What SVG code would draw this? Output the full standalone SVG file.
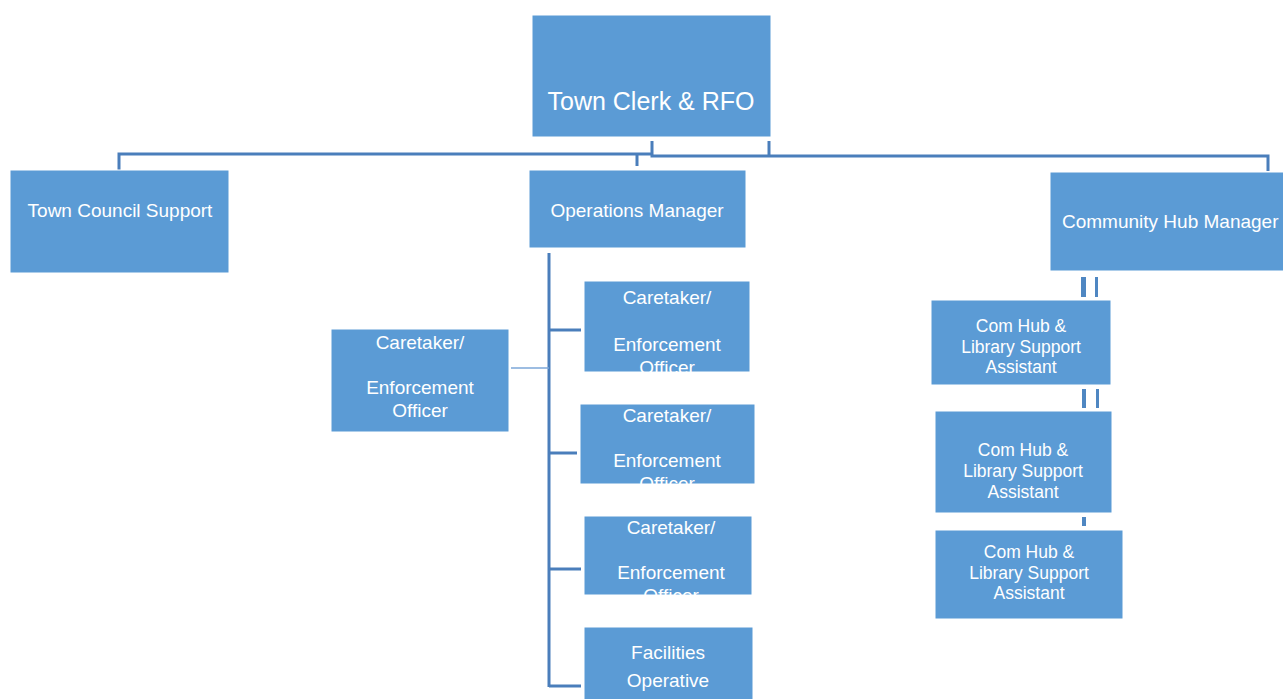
<svg xmlns="http://www.w3.org/2000/svg" width="1283" height="699" viewBox="0 0 1283 699">
<style>
.box{fill:#5B9BD5;stroke:#FFFFFF;stroke-width:1}
.t{fill:#FFFFFF;font-family:"Liberation Sans",Arial,sans-serif;font-size:19px;text-anchor:middle}
.s{font-size:17.5px}
.c{stroke:#4A7EBB;stroke-width:3;fill:none}
.cb{fill:#4F87C2}
</style>
<rect width="1283" height="699" fill="#FFFFFF"/>
<g id="connectors">
<polyline class="c" points="119,170 119,154 652,154"/>
<line class="c" x1="637" y1="154" x2="637" y2="166"/>
<polyline class="c" points="652,141 652,156 1268,156 1268,171"/>
<line class="c" x1="769" y1="141" x2="769" y2="156"/>
<line class="c" x1="549" y1="253" x2="549" y2="687"/>
<line class="c" x1="549" y1="330" x2="581" y2="330"/>
<line class="c" x1="549" y1="453" x2="577" y2="453"/>
<line class="c" x1="549" y1="569" x2="581" y2="569"/>
<line class="c" x1="549" y1="686" x2="581" y2="686"/>
<line x1="511" y1="368" x2="549" y2="368" stroke="#7DA7D9" stroke-width="1.5"/>
<rect class="cb" x="1081" y="277" width="5" height="20"/>
<rect class="cb" x="1095" y="277" width="3" height="20"/>
<rect class="cb" x="1082" y="389" width="4" height="19"/>
<rect class="cb" x="1096" y="389" width="3" height="19"/>
<rect class="cb" x="1082" y="517" width="4" height="9"/>
</g>
<g id="n-clerk"><rect class="box" x="532" y="15" width="239" height="122"/><text class="t" x="651" y="110" style="font-size:25px">Town Clerk &amp; RFO</text></g>
<g id="n-tcs"><rect class="box" x="10" y="170" width="219" height="103"/><text class="t" x="120" y="217">Town Council Support</text></g>
<g id="n-ops"><rect class="box" x="529" y="170" width="217" height="78"/><text class="t" x="637" y="217">Operations Manager</text></g>
<g id="n-chm"><rect class="box" x="1050" y="172" width="250" height="99"/><text class="t" x="1062" y="228" style="text-anchor:start">Community Hub Manager</text></g>
<g id="n-ct0"><rect class="box" x="331" y="329" width="178" height="103"/><text class="t" x="420" y="349">Caretaker/</text><text class="t" x="420" y="394">Enforcement</text><text class="t" x="420" y="417">Officer</text></g>
<clipPath id="k1"><rect x="584" y="281" width="166" height="91"/></clipPath>
<g id="n-ct1"><rect class="box" x="584" y="281" width="166" height="91"/><g clip-path="url(#k1)"><text class="t" x="667" y="304">Caretaker/</text><text class="t" x="667" y="351">Enforcement</text><text class="t" x="667" y="374">Officer</text></g></g>
<clipPath id="k2"><rect x="580" y="404" width="175" height="80"/></clipPath>
<g id="n-ct2"><rect class="box" x="580" y="404" width="175" height="80"/><g clip-path="url(#k2)"><text class="t" x="667" y="422">Caretaker/</text><text class="t" x="667" y="467">Enforcement</text><text class="t" x="667" y="490">Officer</text></g></g>
<clipPath id="k3"><rect x="584" y="516" width="168" height="79"/></clipPath>
<g id="n-ct3"><rect class="box" x="584" y="516" width="168" height="79"/><g clip-path="url(#k3)"><text class="t" x="671" y="534">Caretaker/</text><text class="t" x="671" y="579">Enforcement</text><text class="t" x="671" y="602">Officer</text></g></g>
<g id="n-fac"><rect class="box" x="584" y="627" width="169" height="80"/><text class="t" x="668" y="659">Facilities</text><text class="t" x="668" y="687">Operative</text></g>
<g id="n-ch1"><rect class="box" x="931" y="300" width="180" height="85"/><text class="t s" x="1021" y="332">Com Hub &amp;</text><text class="t s" x="1021" y="353">Library Support</text><text class="t s" x="1021" y="373">Assistant</text></g>
<g id="n-ch2"><rect class="box" x="935" y="411" width="177" height="102"/><text class="t s" x="1023" y="456">Com Hub &amp;</text><text class="t s" x="1023" y="477">Library Support</text><text class="t s" x="1023" y="498">Assistant</text></g>
<g id="n-ch3"><rect class="box" x="935" y="530" width="188" height="89"/><text class="t s" x="1029" y="558">Com Hub &amp;</text><text class="t s" x="1029" y="579">Library Support</text><text class="t s" x="1029" y="599">Assistant</text></g>
</svg>
